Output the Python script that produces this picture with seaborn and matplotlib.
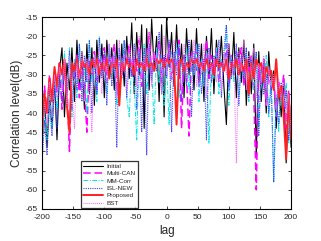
import numpy as np
import pandas as pd
import matplotlib
matplotlib.use("Agg")
import matplotlib.pyplot as plt
import seaborn as sns

lags = list(range(-200, 201, 4))

initial = [-46, -36, -49, -34, -44, -31, -47, -29, -23, -41, -27,
           -34, -23, -37, -21, -33, -24, -39, -22, -35, -23,
           -38, -21, -32, -22, -36, -21, -30, -23, -34, -21,
           -37, -22, -33, -20, -31, -16.5, -35, -19, -30, -17,
           -44, -18, -34, -15.5, -29, -20, -37, -17, -41, -15,
           -28, -19, -33, -17, -31, -22, -36, -18, -30, -21,
           -34, -18, -32, -22, -37, -20, -31, -18, -35, -21,
           -29, -20, -33, -43, -22, -31, -19, -36, -23, -32,
           -21, -38, -24, -35, -22, -51, -24, -37, -26, -40,
           -24, -34, -29, -44, -33, -41, -31, -53, -36, -49]

multi_can = [-45, -33, -40, -30, -37, -29, -35, -27, -39, -28, -33,
             -50, -27, -31, -25, -36, -27, -33, -45, -26, -30,
             -24, -34, -26, -29, -23, -32, -25, -28, -22, -35,
             -25, -30, -24, -27, -22, -31, -26, -29, -21, -33,
             -25, -28, -19, -30, -24, -27, -21, -32, -25, -29,
             -22, -31, -26, -28, -21, -44, -25, -30, -46, -24,
             -29, -22, -33, -26, -28, -21, -31, -25, -29, -23,
             -32, -26, -28, -22, -34, -25, -30, -24, -27, -23,
             -33, -26, -29, -25, -35, -60, -28, -33, -26, -38,
             -29, -34, -31, -41, -32, -36, -30, -44, -34, -47]

mm_corr = [-50, -40, -47, -35, -44, -31, -39, -27, -33, -24, -38,
           -23, -41, -26, -36, -22, -34, -28, -40, -21, -32,
           -25, -37, -20, -30, -27, -35, -22, -31, -24, -38,
           -23, -29, -21, -36, -41, -26, -33, -47, -24, -30,
           -22, -35, -26, -28, -43, -23, -32, -25, -38, -27,
           -43, -24, -31, -22, -36, -27, -29, -23, -34, -25,
           -30, -22, -37, -26, -33, -24, -48, -27, -31, -23,
           -35, -26, -29, -17, -38, -25, -32, -24, -36, -27,
           -30, -23, -37, -26, -34, -24, -44, -27, -33, -25,
           -41, -30, -58, -35, -45, -33, -40, -32, -48, -38]

isl_new = [-53, -42, -51, -38, -46, -33, -44, -30, -37, -26, -35,
           -24, -39, -27, -34, -22, -37, -25, -32, -21, -40,
           -26, -35, -20.5, -31, -24, -38, -22, -33, -25, -49,
           -23, -31, -21, -36, -26, -30, -22, -39, -24, -45,
           -23, -51, -22, -32, -26, -29, -19, -35, -25, -31,
           -21, -45, -24, -30, -22, -37, -25, -33, -21, -41,
           -24, -29, -22, -35, -26, -47, -23, -32, -25, -28,
           -21, -36, -24, -17, -33, -26, -30, -22, -38, -25,
           -31, -23, -36, -26, -29, -24, -46, -27, -35, -30,
           -40, -33, -58, -36, -43, -32, -39, -34, -47, -41]

proposed = [-46, -35, -40, -31, -37, -28, -33, -27, -30, -26, -38,
            -45, -27, -29, -26, -31, -26, -28, -27, -30, -26,
            -28, -26, -30, -27, -29, -26, -31, -27, -28, -26,
            -38, -27, -29, -26, -28, -27, -30, -26, -28, -27,
            -29, -26, -28, -27, -29, -26, -27, -26, -28, -26,
            -27, -26, -28, -43, -27, -26, -29, -27, -28, -26,
            -27, -26, -28, -27, -29, -26, -28, -27, -30, -26,
            -28, -27, -29, -26, -31, -27, -28, -26, -30, -27,
            -29, -26, -35, -27, -31, -26, -28, -27, -32, -28,
            -30, -29, -34, -26, -36, -33, -41, -52, -35, -47]

bst = [-47, -37, -43, -32, -41, -30, -36, -28, -34, -26, -38,
       -25, -34, -44, -27, -31, -24, -37, -26, -33, -45,
       -25, -30, -23, -35, -26, -32, -22, -29, -24, -36,
       -21, -30, -25, -34, -22, -28, -24, -33, -20, -31,
       -25, -29, -19, -33, -24, -28, -22, -35, -20, -30,
       -23, -32, -21, -29, -25, -34, -22, -31, -24, -28,
       -21, -33, -25, -30, -22, -36, -24, -29, -26, -32,
       -23, -34, -25, -30, -22, -31, -26, -53, -24, -29,
       -21, -34, -25, -30, -23, -36, -27, -32, -25, -38,
       -28, -33, -30, -39, -31, -36, -32, -42, -35, -45]

names = ["Initial", "Multi-CAN", "MM-Corr", "ISL-NEW", "Proposed", "BST"]
series = [initial, multi_can, mm_corr, isl_new, proposed, bst]
colors = ["#000000", "#ff00ff", "#00e5e5", "#4040ff", "#ff2020", "#ff66ff"]
styles = ["-", (0, (5, 2.5)), (0, (5, 1.5, 1, 1.5)), (0, (1, 1)), "-", (0, (1, 1))]
widths = [0.8, 1.1, 0.7, 0.8, 1.4, 0.7]

sns.set_theme(style="white")
plt.rcParams["font.family"] = ["Liberation Sans", "DejaVu Sans"]
plt.rcParams["axes.unicode_minus"] = False

fig = plt.figure(figsize=(3.21, 2.41), dpi=100)
ax = fig.add_axes([0.131, 0.133, 0.776, 0.796])

for name, vals, c, ls, lw in zip(names, series, colors, styles, widths):
    df = pd.DataFrame({"lag": lags, "val": vals})
    sns.lineplot(data=df, x="lag", y="val", ax=ax, color=c, linestyle=ls,
                 linewidth=lw, label=name, legend=False)

ax.set_xlim(-200, 200)
ax.set_ylim(-65, -15)
ax.set_xticks(range(-200, 201, 50))
ax.set_yticks(range(-65, -14, 5))
ax.tick_params(direction="in", length=2.5, width=0.6, labelsize=6,
               top=True, right=True, bottom=True, left=True)
ax.tick_params(axis="x", pad=3.5)
ax.tick_params(axis="y", pad=3)
for s in ax.spines.values():
    s.set_color("black")
    s.set_linewidth(0.8)
ax.set_xlabel("lag", fontsize=8.5, labelpad=3)
ax.set_ylabel("Correlation level(dB)", fontsize=8.5, labelpad=2)

leg = ax.legend(loc="lower left", bbox_to_anchor=(0.155, 0.005), fontsize=4.6,
                frameon=True, fancybox=False, edgecolor="black",
                handlelength=3.2, borderpad=0.35, labelspacing=0.3,
                handletextpad=0.5, borderaxespad=0)
leg.get_frame().set_linewidth(0.9)

fig.savefig("out.png", dpi=100, facecolor="white")
